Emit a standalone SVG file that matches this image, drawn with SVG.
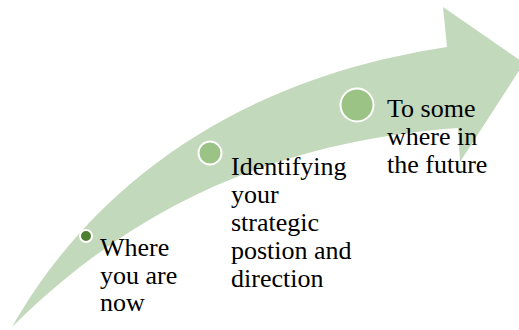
<svg xmlns="http://www.w3.org/2000/svg" width="519" height="330" viewBox="0 0 519 330">
  <style>
    .band { fill: #c3d9bb; }
    .dot { fill: #9bc385; stroke: #ffffff; stroke-width: 2; }
    .dot-now { fill: #4f7f30; stroke: #ffffff; stroke-width: 2; }
  </style>
  <rect width="519" height="330" fill="#ffffff"/>
  <g id="connectors">
    <!-- curved upward arrow -->
    <path class="band" d="M 12,327 C 90,190 230,80 447,47 L 443,7 L 524,63 L 460,162 L 458,128 C 300,140 150,190 12,327 Z"/>
  </g>
  <g id="step-now">
    <circle class="dot-now" cx="86" cy="236" r="6"/>
    <text x="100" y="256" font-family="Liberation Serif" font-size="26">Where</text>
    <text x="100" y="283.5" font-family="Liberation Serif" font-size="26">you are</text>
    <text x="100" y="311" font-family="Liberation Serif" font-size="26">now</text>
  </g>
  <g id="step-position">
    <circle class="dot" cx="210" cy="153" r="11.5"/>
    <text x="231" y="175" font-family="Liberation Serif" font-size="26">Identifying</text>
    <text x="231" y="203" font-family="Liberation Serif" font-size="26">your</text>
    <text x="231" y="231" font-family="Liberation Serif" font-size="26">strategic</text>
    <text x="231" y="259" font-family="Liberation Serif" font-size="26">postion and</text>
    <text x="231" y="287" font-family="Liberation Serif" font-size="26">direction</text>
  </g>
  <g id="step-future">
    <circle class="dot" cx="357" cy="105" r="16.5"/>
    <text x="387" y="117" font-family="Liberation Serif" font-size="26">To some</text>
    <text x="387" y="145" font-family="Liberation Serif" font-size="26">where in</text>
    <text x="387" y="173" font-family="Liberation Serif" font-size="26">the future</text>
  </g>
</svg>
